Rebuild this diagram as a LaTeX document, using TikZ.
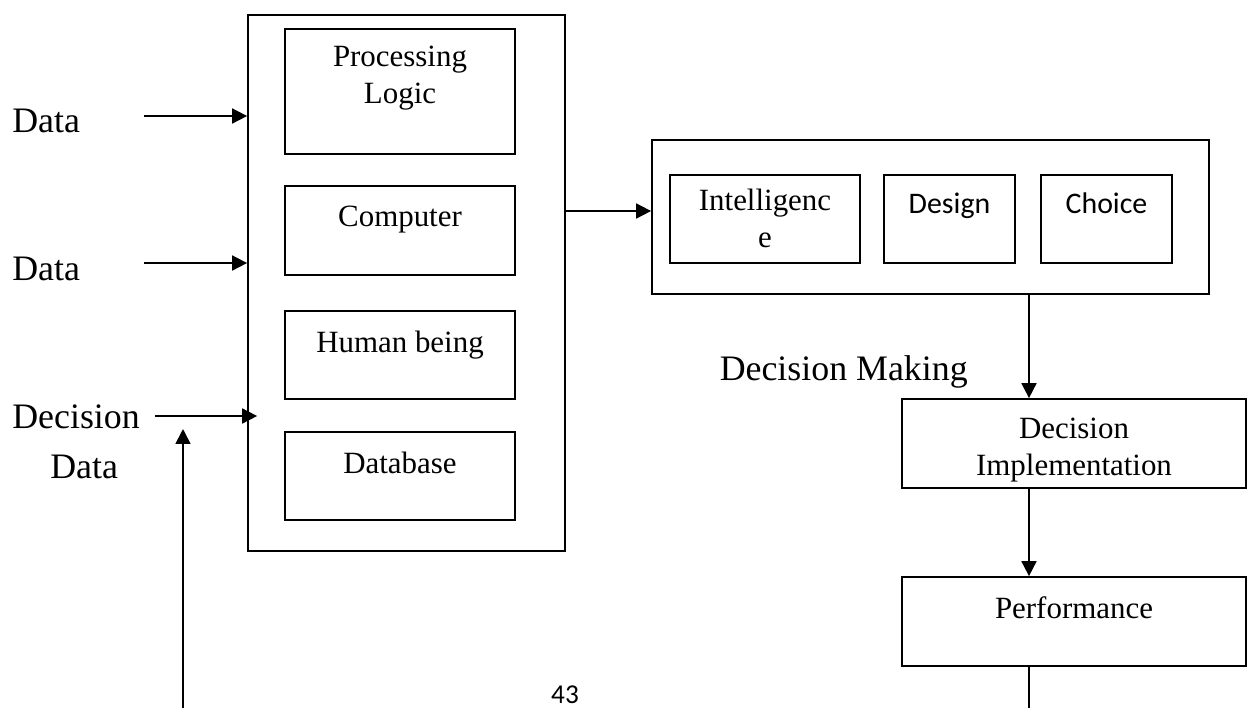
\documentclass[tikz,border=0pt]{standalone}
\usepackage{fontspec}
\setmainfont{Liberation Serif}
\newfontfamily\calibrifont{Carlito}
\usetikzlibrary{positioning,fit,arrows.meta}

\tikzset{
  box/.style={draw, line width=1pt, inner sep=0pt},
  outtxt/.style={inner sep=0pt, font=\fontsize{20.4}{24}\selectfont},
  intxt/.style={anchor=north, align=center, inner sep=0pt, font=\fontsize{17.6}{21}\selectfont},
  sanstxt/.style={anchor=north, align=center, inner sep=0pt, font=\calibrifont\fontsize{17}{20}\selectfont},
  arr/.style={-{Triangle[length=8.5pt,width=8.5pt]}, line width=1pt},
}

\begin{document}
\begin{tikzpicture}[x=0.02cm, y=-0.02cm]
  \useasboundingbox (0,0) rectangle (1248,708);

  % processing system
  \node[box, fit={(248,15) (565,551)}] (sys) {};
  \node[box, fit={(285,29) (515,154)}, label={[intxt, yshift=-10.2pt]north:Processing\\Logic}] (logic) {};
  \node[box, fit={(285,186) (515,275)}, label={[intxt, yshift=-11.8pt]north:Computer}] (comp) {};
  \node[box, fit={(285,311) (515,399)}, label={[intxt, yshift=-11.8pt]north:Human being}] (human) {};
  \node[box, fit={(285,432) (515,520)}, label={[intxt, yshift=-11.8pt]north:Database}] (db) {};

  % decision making
  \node[box, fit={(652,140) (1209,294)}] (dm) {};
  \node[box, fit={(670,175) (860,263)}, label={[intxt, yshift=-8.5pt]north:Intelligenc\\e}] (intel) {};
  \node[box, fit={(884,175) (1015,263)}, label={[sanstxt, yshift=-10.5pt]north:Design}] (design) {};
  \node[box, fit={(1041,175) (1172,263)}, label={[sanstxt, yshift=-10.5pt]north:Choice}] (choice) {};
  \node[outtxt, anchor=base east] (dmlabel) at (968,380) {Decision Making};

  % implementation and performance
  \node[box, fit={(902,399) (1246,488)}, label={[intxt, yshift=-11.3pt]north:Decision\\Implementation}] (impl) {};
  \node[box, fit={(902,577) (1246,666)}, label={[intxt, yshift=-11.3pt]north:Performance}] (perf) {};

  % inputs
  \node[outtxt, anchor=base west] (d1) at (12,132) {Data};
  \node[outtxt, anchor=base west] (d2) at (12,280) {Data};
  \node[outtxt, anchor=base west] (dec) at (12,428) {Decision};
  \node[outtxt, anchor=base west] (decdata) at (50,478) {Data};
  \coordinate (s1) at (144,116);
  \coordinate (s2) at (144,263);
  \coordinate (s3) at (155,416);
  \coordinate (fb) at (183,708);
  \coordinate (fbtip) at (183,429);
  \coordinate (col) at (1029,0);
  \coordinate (out) at (0,211);
  \coordinate (pend) at (1029,708);

  \node[font=\calibrifont\fontsize{15.5}{18}\selectfont, anchor=base, inner sep=0pt] (pg) at (565,703) {43};

  % edges
  \draw[arr] (s1) -- (s1 -| sys.west);
  \draw[arr] (s2) -- (s2 -| sys.west);
  \draw[arr] (s3) -- ([xshift=5.7pt]s3 -| sys.west);
  \draw[arr] (fb) -- (fbtip);
  \draw[arr] (out -| sys.east) -- (out -| dm.west);
  \draw[arr] (dm.south -| col) -- (impl.north -| col);
  \draw[arr] (impl.south -| col) -- (perf.north -| col);
  \draw[line width=1pt] (perf.south -| col) -- (pend);
\end{tikzpicture}
\end{document}
